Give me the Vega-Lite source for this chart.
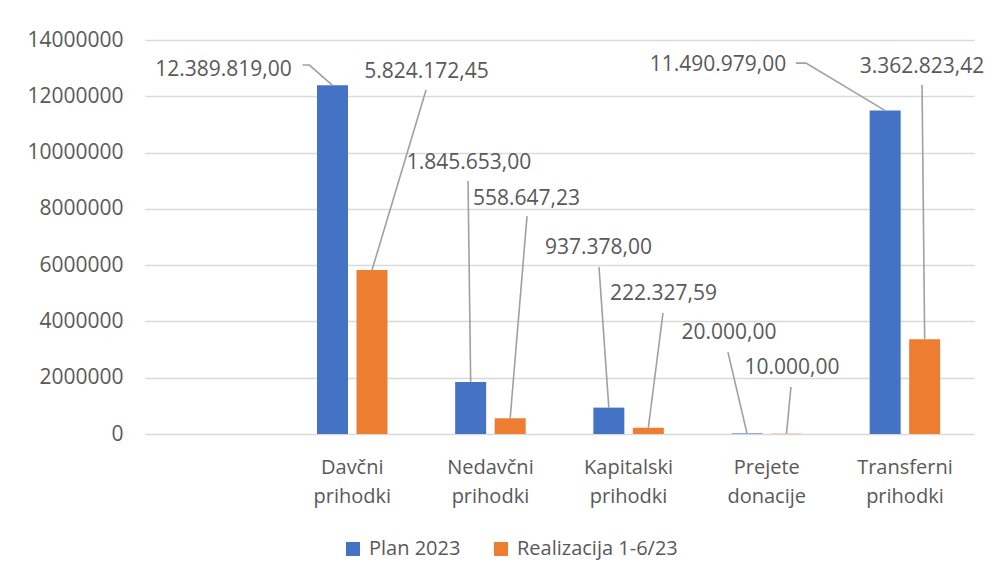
{
  "$schema": "https://vega.github.io/schema/vega-lite/v6.json",
  "width": 829,
  "height": 394,
  "autosize": {"type": "none"},
  "padding": {"left": 145, "top": 40, "right": 18, "bottom": 150},
  "background": "white",
  "config": {
    "locale": {"number": {"decimal": ",", "thousands": ".", "grouping": [3], "currency": ["", ""]}},
    "view": {"stroke": null},
    "font": "Open Sans",
    "axis": {"labelFont": "Open Sans", "labelFontSize": 20, "labelColor": "#595959", "domain": false, "ticks": false}
  },
  "datasets": {
    "prihodki": [
      {"kategorija": "Davčni prihodki", "serija": "Plan 2023", "vrednost": 12389819.00},
      {"kategorija": "Davčni prihodki", "serija": "Realizacija 1-6/23", "vrednost": 5824172.45},
      {"kategorija": "Nedavčni prihodki", "serija": "Plan 2023", "vrednost": 1845653.00},
      {"kategorija": "Nedavčni prihodki", "serija": "Realizacija 1-6/23", "vrednost": 558647.23},
      {"kategorija": "Kapitalski prihodki", "serija": "Plan 2023", "vrednost": 937378.00},
      {"kategorija": "Kapitalski prihodki", "serija": "Realizacija 1-6/23", "vrednost": 222327.59},
      {"kategorija": "Prejete donacije", "serija": "Plan 2023", "vrednost": 20000.00},
      {"kategorija": "Prejete donacije", "serija": "Realizacija 1-6/23", "vrednost": 10000.00},
      {"kategorija": "Transferni prihodki", "serija": "Plan 2023", "vrednost": 11490979.00},
      {"kategorija": "Transferni prihodki", "serija": "Realizacija 1-6/23", "vrednost": 3362823.42}
    ],
    "oznake": [
      {"oznaka": "L1", "vrednost": 12389819.00, "lx": 0.568, "ly": 12930000},
      {"oznaka": "L2", "vrednost": 5824172.45, "lx": 2.037, "ly": 12860000},
      {"oznaka": "L3", "vrednost": 1845653.00, "lx": 2.345, "ly": 9630000},
      {"oznaka": "L4", "vrednost": 558647.23, "lx": 2.761, "ly": 8350000},
      {"oznaka": "L5", "vrednost": 937378.00, "lx": 3.282, "ly": 6610000},
      {"oznaka": "L6", "vrednost": 222327.59, "lx": 3.753, "ly": 4970000},
      {"oznaka": "L7", "vrednost": 20000.00, "lx": 4.227, "ly": 3590000},
      {"oznaka": "L8", "vrednost": 10000.00, "lx": 4.683, "ly": 2340000},
      {"oznaka": "L9", "vrednost": 11490979.00, "lx": 4.147, "ly": 13100000},
      {"oznaka": "L10", "vrednost": 3362823.42, "lx": 5.624, "ly": 13040000}
    ],
    "crte": [
      {"oznaka": "L1", "i": 0, "x": 1.14, "y": 13110000},
      {"oznaka": "L1", "i": 1, "x": 1.19, "y": 13110000},
      {"oznaka": "L1", "i": 2, "x": 1.357, "y": 12389819},
      {"oznaka": "L2", "i": 0, "x": 2.034, "y": 12220000},
      {"oznaka": "L2", "i": 1, "x": 1.643, "y": 5824172},
      {"oznaka": "L3", "i": 0, "x": 2.338, "y": 8990000},
      {"oznaka": "L3", "i": 1, "x": 2.357, "y": 1845653},
      {"oznaka": "L4", "i": 0, "x": 2.765, "y": 7740000},
      {"oznaka": "L4", "i": 1, "x": 2.643, "y": 558647},
      {"oznaka": "L5", "i": 0, "x": 3.286, "y": 5930000},
      {"oznaka": "L5", "i": 1, "x": 3.357, "y": 937378},
      {"oznaka": "L6", "i": 0, "x": 3.749, "y": 4300000},
      {"oznaka": "L6", "i": 1, "x": 3.643, "y": 222328},
      {"oznaka": "L7", "i": 0, "x": 4.219, "y": 2910000},
      {"oznaka": "L7", "i": 1, "x": 4.357, "y": 20000},
      {"oznaka": "L8", "i": 0, "x": 4.675, "y": 1670000},
      {"oznaka": "L8", "i": 1, "x": 4.643, "y": 10000},
      {"oznaka": "L9", "i": 0, "x": 4.711, "y": 13180000},
      {"oznaka": "L9", "i": 1, "x": 4.784, "y": 13180000},
      {"oznaka": "L9", "i": 2, "x": 5.357, "y": 11490979},
      {"oznaka": "L10", "i": 0, "x": 5.624, "y": 12400000},
      {"oznaka": "L10", "i": 1, "x": 5.643, "y": 3362823}
    ]
  },
  "layer": [
    {
      "data": {"name": "prihodki"},
      "mark": {"type": "bar"},
      "encoding": {
        "x": {
          "field": "kategorija", "type": "nominal", "sort": null,
          "scale": {"domain": ["_", "Davčni prihodki", "Nedavčni prihodki", "Kapitalski prihodki", "Prejete donacije", "Transferni prihodki"], "paddingInner": 0, "paddingOuter": 0},
          "axis": {"title": null, "labelExpr": "datum.label == '_' ? '' : split(datum.label, ' ')", "labelPadding": 23, "labelLineHeight": 29, "labelAngle": 0, "grid": false, "labelBaseline": "top"}
        },
        "xOffset": {
          "field": "serija", "type": "nominal", "sort": null,
          "scale": {"domain": ["Plan 2023", "Realizacija 1-6/23"], "paddingInner": 0.215, "paddingOuter": 0.857}
        },
        "y": {
          "field": "vrednost", "type": "quantitative",
          "scale": {"domain": [0, 14000000], "nice": false},
          "axis": {"title": null, "values": [0, 2000000, 4000000, 6000000, 8000000, 10000000, 12000000, 14000000], "format": "d", "grid": true, "gridColor": "#D9D9D9", "gridWidth": 1.5, "labelPadding": 22, "labelFontSize": 21}
        },
        "color": {
          "field": "serija", "type": "nominal",
          "scale": {"domain": ["Plan 2023", "Realizacija 1-6/23"], "range": ["#4472C4", "#ED7D31"]},
          "legend": {"title": null, "orient": "none", "legendX": 198, "legendY": 499, "direction": "horizontal", "symbolType": "square", "symbolSize": 196, "symbolStrokeWidth": 0, "labelFont": "Open Sans", "labelFontSize": 20, "labelColor": "#595959", "labelOffset": 6, "labelLimit": 400, "columnPadding": 30, "padding": 0}
        }
      }
    },
    {
      "data": {"name": "crte"},
      "mark": {"type": "line", "color": "#A0A0A0", "strokeWidth": 1.6},
      "encoding": {
        "x": {"field": "x", "type": "quantitative", "scale": {"domain": [0, 6], "nice": false, "zero": false}, "axis": null},
        "y": {"field": "y", "type": "quantitative"},
        "detail": {"field": "oznaka", "type": "nominal"},
        "order": {"field": "i", "type": "quantitative"}
      }
    },
    {
      "data": {"name": "oznake"},
      "mark": {"type": "text", "font": "Open Sans", "fontSize": 21, "color": "#595959", "align": "center", "baseline": "middle"},
      "encoding": {
        "x": {"field": "lx", "type": "quantitative", "scale": {"domain": [0, 6], "nice": false, "zero": false}, "axis": null},
        "y": {"field": "ly", "type": "quantitative"},
        "text": {"field": "vrednost", "type": "quantitative", "format": ",.2f"}
      }
    }
  ],
  "resolve": {"scale": {"x": "independent"}}
}
